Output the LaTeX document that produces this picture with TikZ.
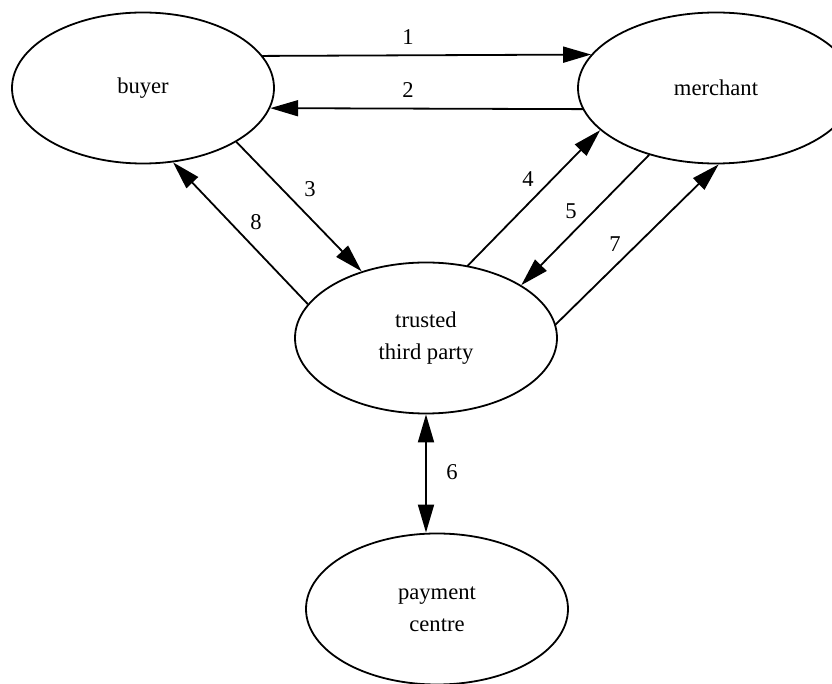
\documentclass[tikz,border=0pt]{standalone}
\usepackage{fontspec}
\setmainfont{Liberation Serif}
\usetikzlibrary{shapes.geometric,arrows.meta}
\begin{document}
\begin{tikzpicture}[>={Triangle[length=14pt,width=8pt]}, x=0.5pt, y=-0.5pt, line join=round, line cap=round,
    party/.style={ellipse, draw, line width=0.9pt, minimum width=131pt, minimum height=75.5pt, inner sep=0pt, align=center, font=\fontsize{11.3}{16}\selectfont},
    msg/.style={->, line width=0.9pt},
    num/.style={inner sep=0pt, font=\fontsize{11.3}{13}\selectfont}]
    \useasboundingbox (0,0) rectangle (832,684);
    % parties
    \node[party] (buyer) at (143,88) {buyer};
    \node[party, minimum width=138pt] (merchant) at (716,88) {merchant};
    \node[party] (ttp) at (426,338) {trusted\\third party};
    \node[party] (pay) at (437,609) {payment\\centre};
    % messages
    \draw[msg] (buyer.15.4) -- (merchant.165.4);
    \draw[msg] (merchant.189) -- (buyer.351);
    \draw[msg] (buyer.330.7) -- (ttp.134.6);
    \draw[msg] (ttp.60) -- (merchant.200.2);
    \draw[msg] (merchant.225.8) -- (ttp.29.7);
    \draw[msg, <->] (ttp.south) -- (ttp.south |- pay.north);
    \draw[msg] (ttp.6.5) -- (merchant.272.3);
    \draw[msg] (ttp.164.1) -- (buyer.292.7);
    % step numbers
    \foreach \k/\px/\py in {1/408/37, 2/408/90, 3/310/189, 4/528/179, 5/571/211, 6/452/472, 7/615/244, 8/256/222}
        \node[num] (n\k) at (\px,\py) {\k};
\end{tikzpicture}
\end{document}
